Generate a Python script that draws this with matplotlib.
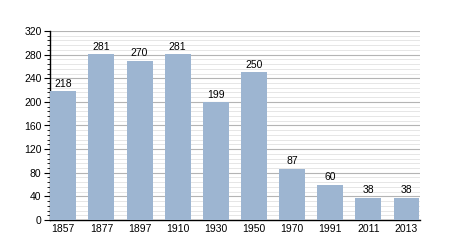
import matplotlib
matplotlib.use("Agg")
import matplotlib.pyplot as plt
from matplotlib.ticker import MultipleLocator

years = ["1857", "1877", "1897", "1910", "1930", "1950", "1970", "1991", "2011", "2013"]
population = [218, 281, 270, 281, 199, 250, 87, 60, 38, 38]

plt.rcParams['font.family'] = ['Liberation Sans', 'DejaVu Sans']
fig = plt.figure(figsize=(4.5, 2.5), dpi=100)
ax = fig.add_axes([0.111, 0.12, 0.822, 0.756])

x = range(len(years))
bars = ax.bar(x, population, width=0.68, color="#9db5d1", zorder=3)
for xi, v in zip(x, population):
    ax.text(xi, v + 4, str(v), ha="center", va="bottom", fontsize=7.5, zorder=4)

ax.set_xlim(-0.35, len(years) - 0.65)
ax.set_ylim(0, 320)
ax.set_xticks(list(x))
ax.set_xticklabels(years)
ax.yaxis.set_major_locator(MultipleLocator(40))
ax.yaxis.set_minor_locator(MultipleLocator(8))
ax.grid(axis="y", which="major", color="#b4b4b4", linewidth=0.8, zorder=0)
ax.grid(axis="y", which="minor", color="#e2e2e2", linewidth=0.6, zorder=0)
ax.tick_params(axis="x", length=0, labelsize=7.5, pad=3)
ax.tick_params(axis="y", which="major", length=4, labelsize=7.5, pad=2)
ax.tick_params(axis="y", which="minor", length=2)
for s in ["top", "right"]:
    ax.spines[s].set_visible(False)
ax.spines["left"].set_linewidth(1)
ax.spines["bottom"].set_linewidth(1)

fig.savefig("out.png", dpi=100)
